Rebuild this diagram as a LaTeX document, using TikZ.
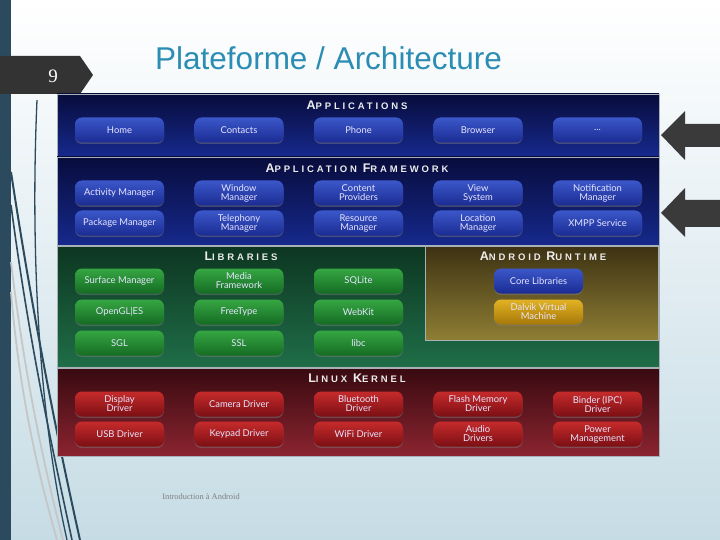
\documentclass[tikz,border=0pt]{standalone}
\usepackage{fontspec}
\usepackage{tikz}
\usetikzlibrary{shadows}
\setmainfont{Liberation Sans}
\newfontfamily\btnfont{Lato}
\newfontfamily\hdrfont{Liberation Sans}[LetterSpace=30]
\newfontfamily\numfont{Liberation Serif}

\definecolor{strip}{HTML}{2B4A5E}
\definecolor{tagcol}{HTML}{333333}
\definecolor{titlecol}{HTML}{2B8DB3}
\definecolor{bgbot}{HTML}{C6DCE5}
\definecolor{panelline}{HTML}{A9B1B8}
\definecolor{hdrtext}{HTML}{ECECEC}
\definecolor{apptop}{HTML}{080C3C}
\definecolor{appbot}{HTML}{16298C}
\definecolor{libtop}{HTML}{0D3621}
\definecolor{libbot}{HTML}{1F6E48}
\definecolor{rttop}{HTML}{3D3213}
\definecolor{rtbot}{HTML}{8F7E34}
\definecolor{kertop}{HTML}{380A10}
\definecolor{kerbot}{HTML}{8B2430}
\definecolor{bluetop}{HTML}{3B57C9}
\definecolor{bluebot}{HTML}{1B2C93}
\definecolor{greentop}{HTML}{36A643}
\definecolor{greenbot}{HTML}{146C22}
\definecolor{redtop}{HTML}{C62B2B}
\definecolor{redbot}{HTML}{7C0F14}
\definecolor{goldtop}{HTML}{E2B224}
\definecolor{goldbot}{HTML}{A67808}
\definecolor{arrowcol}{HTML}{3A3A3A}

% small caps look for the layer titles
\newcommand\capsword[2]{{\fontsize{12.5}{12}\selectfont #1}{\fontsize{9.5}{9}\selectfont #2}}

\tikzset{
  panel/.style={draw=panelline, line width=0.9pt},
  hdr/.style={text=hdrtext, font=\hdrfont\bfseries, inner sep=0pt},
  btn/.style={rounded corners=7pt, minimum width=89pt, minimum height=25pt,
    inner sep=0pt, align=center, text=white!90!blue,
    font=\btnfont\fontsize{9.4}{9}\selectfont,
    drop shadow={shadow xshift=0pt, shadow yshift=-1.5pt, opacity=0.45}},
  bluebtn/.style={btn, top color=bluetop, bottom color=bluebot},
  greenbtn/.style={btn, top color=greentop, bottom color=greenbot},
  redbtn/.style={btn, top color=redtop, bottom color=redbot},
  goldbtn/.style={btn, top color=goldtop, bottom color=goldbot},
  deco/.style={draw=strip, line width=2pt},
  decolight/.style={draw=gray!45, line width=1.8pt}
}

\begin{document}
\begin{tikzpicture}[x=1pt,y=-1pt]
  \useasboundingbox (0,0) rectangle (720,540);
  % slide background
  \shade[top color=white, bottom color=bgbot] (0,0) rectangle (720,540);
  \fill[strip] (0,0) rectangle (11,540);
  \draw[decolight] (11,262) .. controls (25,380) and (45,470) .. (63,540);
  \draw[decolight] (11,292) .. controls (20,400) and (40,480) .. (57,540);
  \draw[deco] (11,172) .. controls (35,330) and (60,450) .. (80,540);
  \draw[deco, line width=1.6pt] (11,205) .. controls (30,350) and (55,460) .. (72,540);
  \draw[deco, line width=1.3pt] (37,100) .. controls (30,260) and (40,420) .. (67,540);

  % slide number tag and title
  \fill[tagcol] (0,56) -- (80,56) -- (93,75) -- (80,94) -- (0,94) -- cycle;
  \node[text=white, font=\numfont\fontsize{19}{19}\selectfont] (num) at (53,76) {9};
  \node[text=titlecol, font=\fontsize{31.5}{32}\selectfont, anchor=west, inner sep=0pt] (title) at (155,58) {Plateforme / Architecture};

  % layers
  \path[panel, top color=apptop, bottom color=appbot] (57,94) rectangle (659,156);
  \path[panel, top color=apptop, bottom color=appbot] (57,157) rectangle (659,245);
  \path[panel, top color=libtop, bottom color=libbot] (57,246) rectangle (659,367);
  \path[panel, top color=rttop, bottom color=rtbot] (425,246) rectangle (658,340);
  \path[panel, top color=kertop, bottom color=kerbot] (57,368) rectangle (659,456);

  \node[hdr] (H-app) at (357,105) {\capsword{A}{PPLICATIONS}};
  \node[hdr] (H-fw) at (357,168) {\capsword{A}{PPLICATION} \capsword{F}{RAMEWORK}};
  \node[hdr] (H-lib) at (241,256) {\capsword{L}{IBRARIES}};
  \node[hdr] (H-rt) at (543,256) {\capsword{A}{NDROID} \capsword{R}{UNTIME}};
  \node[hdr] (H-ker) at (357,378) {\capsword{L}{INUX} \capsword{K}{ERNEL}};

  % applications
  \node[bluebtn] (App-1) at (119.5,130) {Home};
  \node[bluebtn] (App-2) at (239,130) {Contacts};
  \node[bluebtn] (App-3) at (358.5,130) {Phone};
  \node[bluebtn] (App-4) at (478,130) {Browser};
  \node[bluebtn] (App-5) at (597.5,130) {...};

  % application framework
  \node[bluebtn] (Fw-1) at (119.5,193) {Activity Manager};
  \node[bluebtn] (Fw-2) at (239,193) {Window\\Manager};
  \node[bluebtn] (Fw-3) at (358.5,193) {Content\\Providers};
  \node[bluebtn] (Fw-4) at (478,193) {View\\System};
  \node[bluebtn] (Fw-5) at (597.5,193) {Notification\\Manager};
  \node[bluebtn] (Fw-6) at (119.5,223) {Package Manager};
  \node[bluebtn] (Fw-7) at (239,223) {Telephony\\Manager};
  \node[bluebtn] (Fw-8) at (358.5,223) {Resource\\Manager};
  \node[bluebtn] (Fw-9) at (478,223) {Location\\Manager};
  \node[bluebtn] (Fw-10) at (597.5,223) {XMPP Service};

  % libraries
  \node[greenbtn] (Lib-1) at (119.5,281) {Surface Manager};
  \node[greenbtn] (Lib-2) at (239,281) {Media\\Framework};
  \node[greenbtn] (Lib-3) at (358.5,281) {SQLite};
  \node[greenbtn] (Lib-4) at (119.5,312) {OpenGL|ES};
  \node[greenbtn] (Lib-5) at (239,312) {FreeType};
  \node[greenbtn] (Lib-6) at (358.5,312) {WebKit};
  \node[greenbtn] (Lib-7) at (119.5,343) {SGL};
  \node[greenbtn] (Lib-8) at (239,343) {SSL};
  \node[greenbtn] (Lib-9) at (358.5,343) {libc};

  % android runtime
  \node[bluebtn] (Rt-1) at (538.5,281) {Core Libraries};
  \node[goldbtn] (Rt-2) at (538.5,312) {Dalvik Virtual\\Machine};

  % linux kernel
  \node[redbtn] (Ker-1) at (119.5,404) {Display\\Driver};
  \node[redbtn] (Ker-2) at (239,404) {Camera Driver};
  \node[redbtn] (Ker-3) at (358.5,404) {Bluetooth\\Driver};
  \node[redbtn] (Ker-4) at (478,404) {Flash Memory\\Driver};
  \node[redbtn] (Ker-5) at (597.5,404) {Binder (IPC)\\Driver};
  \node[redbtn] (Ker-6) at (119.5,434) {USB Driver};
  \node[redbtn] (Ker-7) at (239,434) {Keypad Driver};
  \node[redbtn] (Ker-8) at (358.5,434) {WiFi Driver};
  \node[redbtn] (Ker-9) at (478,434) {Audio\\Drivers};
  \node[redbtn] (Ker-10) at (597.5,434) {Power\\Management};

  % pointers on the right
  \fill[arrowcol] (661,135) -- (685,111) -- (685,124) -- (720,124) -- (720,147) -- (685,147) -- (685,160) -- cycle;
  \fill[arrowcol] (661,213) -- (685,188) -- (685,200) -- (720,200) -- (720,227) -- (685,227) -- (685,237) -- cycle;

  \node[text=gray, font=\numfont\fontsize{8.4}{9}\selectfont] (foot) at (201,497) {Introduction à Android};
\end{tikzpicture}
\end{document}
